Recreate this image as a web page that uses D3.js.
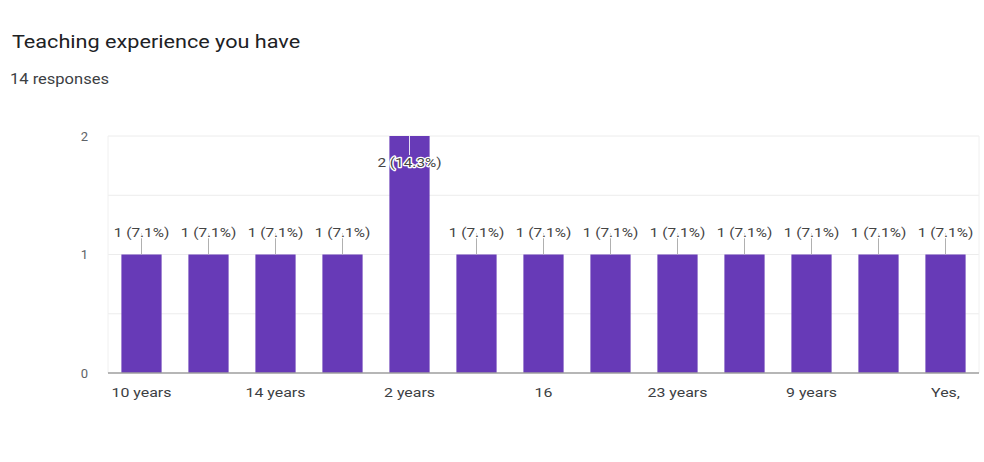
<!DOCTYPE html>
<html>
<head>
<meta charset="utf-8">
<script src="https://cdn.jsdelivr.net/npm/d3@7"></script>
<style>
  html, body { margin: 0; padding: 0; background: #fff; }
  svg { display: block; font-family: Roboto, Arial, sans-serif; }
</style>
</head>
<body>
<svg id="chart" width="984" height="462"></svg>
<script>
// Answers to the question (every other label is shown on the axis)
const categories = ["10 years", "12 years", "14 years", "15 years", "2 years", "20 years",
                    "16", "5 years", "23 years", "6 years", "9 years", "8 years", "Yes,"];
const counts = [1, 1, 1, 1, 2, 1, 1, 1, 1, 1, 1, 1, 1];
const yTicks = [0, 1, 2];
const gridValues = [0.5, 1, 1.5, 2];
const totalResponses = 14;

// Text in this chart is set slightly wide
const WIDE = "scale(1.18,1)";

const svg = d3.select("#chart");
const plot = { left: 108, right: 979, top: 136, bottom: 373 };

svg.append("g").attr("transform", "translate(12,48)")
  .append("text")
  .attr("transform", "scale(1.17,1)")
  .attr("font-size", 18.5).attr("fill", "#202124")
  .text("Teaching experience you have");

svg.append("g").attr("transform", "translate(10,84)")
  .append("text")
  .attr("transform", WIDE)
  .attr("font-size", 14).attr("fill", "#3c4043")
  .text(totalResponses + " responses");

const x = d3.scaleBand()
  .domain(d3.range(categories.length))
  .range([plot.left, plot.right])
  .paddingInner(0.4)
  .paddingOuter(0.2);

const y = d3.scaleLinear().domain([0, 2]).range([plot.bottom, plot.top]);

// Gridlines
svg.append("g").selectAll("line").data(gridValues).join("line")
  .attr("x1", plot.left).attr("x2", plot.right)
  .attr("y1", d => y(d)).attr("y2", d => y(d))
  .attr("stroke", "#ececec").attr("stroke-width", 1);

// Faint frame sides
svg.append("g").selectAll("line").data([plot.left, plot.right]).join("line")
  .attr("x1", d => d).attr("x2", d => d)
  .attr("y1", plot.top).attr("y2", plot.bottom)
  .attr("stroke", "#f0f0f0");

// Y axis labels
const yAxis = d3.axisLeft(y).tickValues(yTicks).tickSize(0).tickPadding(20).tickFormat(d3.format("d"));
const gy = svg.append("g").attr("transform", `translate(${plot.left},0)`).call(yAxis);
gy.select(".domain").remove();
gy.selectAll("text").attr("font-size", 13).attr("fill", "#5f6368").attr("font-family", "Roboto, Arial, sans-serif");

// Bars
svg.append("g").selectAll("rect").data(counts).join("rect")
  .attr("x", (d, i) => x(i))
  .attr("y", d => y(d))
  .attr("width", x.bandwidth())
  .attr("height", d => y(0) - y(d))
  .attr("fill", "#673ab7");

// Baseline
svg.append("line")
  .attr("x1", plot.left).attr("x2", plot.right)
  .attr("y1", y(0)).attr("y2", y(0))
  .attr("stroke", "#9e9e9e").attr("stroke-width", 1.5);

// X axis labels, every other category
const xAxis = d3.axisBottom(x).tickSize(0).tickPadding(14)
  .tickFormat(i => (i % 2 === 0 ? categories[i] : ""));
const gx = svg.append("g").attr("transform", `translate(0,${y(0)})`).call(xAxis);
gx.select(".domain").remove();
gx.selectAll("text")
  .attr("font-size", 13.5).attr("fill", "#3c4043")
  .attr("font-family", "Roboto, Arial, sans-serif")
  .attr("transform", WIDE);

// Value labels with leader lines
const fmtPct = d3.format(".1f");
const labels = svg.append("g");
counts.forEach((v, i) => {
  const cx = x(i) + x.bandwidth() / 2;
  const top = y(v);
  const inside = top - 30 < plot.top;
  const ly = inside ? top + 31 : top - 18;
  labels.append("line")
    .attr("x1", cx).attr("x2", cx)
    .attr("y1", top).attr("y2", inside ? ly - 12 : ly - 3)
    .attr("stroke", inside ? "#e6e0f3" : "#b0b0b0").attr("stroke-width", 1);
  labels.append("g").attr("transform", `translate(${cx},${ly})`)
    .append("text")
    .attr("transform", WIDE)
    .attr("text-anchor", "middle")
    .attr("font-size", 13)
    .attr("fill", "#444")
    .attr("stroke", "#fff").attr("stroke-width", 2.5)
    .attr("paint-order", "stroke")
    .attr("stroke-linejoin", "round")
    .text(`${v} (${fmtPct(v / totalResponses * 100)}%)`);
});
</script>
</body>
</html>
